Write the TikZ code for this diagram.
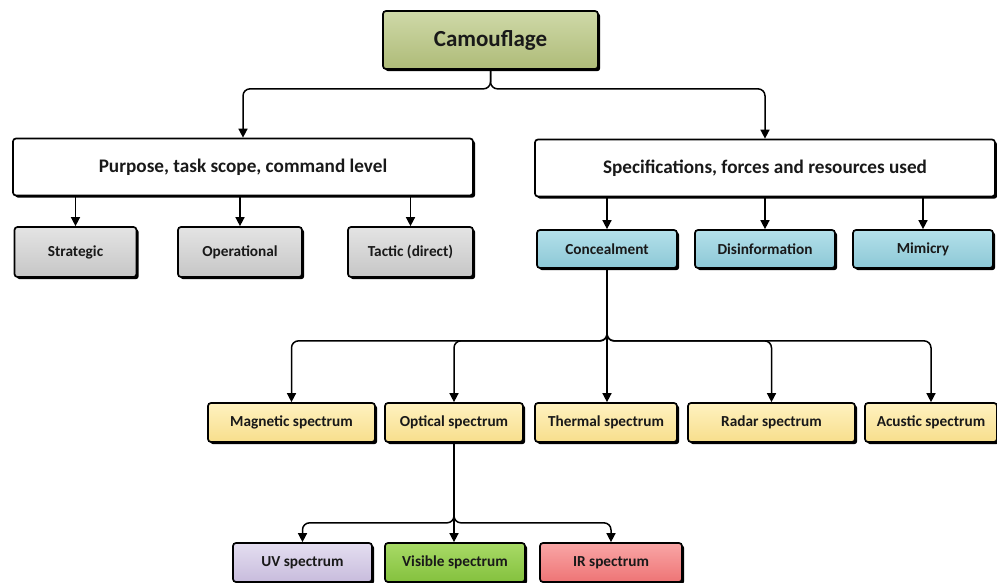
\documentclass[tikz,border=0pt]{standalone}
\usepackage{fontspec}
\setmainfont{Carlito}
\usepackage{xcolor}
\usepackage{tikz}
\usetikzlibrary{arrows.meta}
\usetikzlibrary{shadows}

\definecolor{camotop}{HTML}{CFD9A8}
\definecolor{camobot}{HTML}{AEBB78}
\definecolor{graytop}{HTML}{E4E4E4}
\definecolor{graybot}{HTML}{C6C6C6}
\definecolor{bluetop}{HTML}{B4E0EA}
\definecolor{bluebot}{HTML}{8CC8D6}
\definecolor{yeltop}{HTML}{FFF2C0}
\definecolor{yelbot}{HTML}{F7DE8C}
\definecolor{uvtop}{HTML}{E4DEF0}
\definecolor{uvbot}{HTML}{C8BCDD}
\definecolor{vistop}{HTML}{A8DA66}
\definecolor{visbot}{HTML}{84C13E}
\definecolor{irtop}{HTML}{F9A6A6}
\definecolor{irbot}{HTML}{EE7475}

\begin{document}
\begin{tikzpicture}[x=1pt,y=-1pt]
	\useasboundingbox (0,0) rectangle (997,583);
	\tikzstyle{box}=[draw=black,line width=1.7pt,rounded corners=3pt,inner sep=0pt,text=black!90,drop shadow={shadow xshift=2.2pt,shadow yshift=-2.2pt,fill=black,opacity=1}]
	\tikzstyle{topbox}=[box,minimum width=215pt,minimum height=58pt,top color=camotop,bottom color=camobot,font=\bfseries\fontsize{23}{27}\selectfont]
	\tikzstyle{bigbox}=[box,minimum width=460pt,minimum height=57pt,fill=white,font=\bfseries\fontsize{19.2}{22}\selectfont]
	\tikzstyle{leaf}=[box,minimum height=39pt,font=\bfseries\fontsize{15.3}{18}\selectfont]
	\tikzstyle{link}=[line width=1.5pt,rounded corners=7pt,-{Triangle[length=9pt,width=9pt]}]
	% top and second level
	\node[topbox] (camo) at (490.5,40) {Camouflage};
	\node[bigbox] (purpose) at (243,167) {Purpose, task scope, command level};
	\node[bigbox] (spec) at (765,168) {Specifications, forces and resources used};
	% command levels
	\node[leaf,minimum width=122pt,minimum height=50pt,top color=graytop,bottom color=graybot] (strat) at (75.5,252) {Strategic};
	\node[leaf,minimum width=124pt,minimum height=50pt,top color=graytop,bottom color=graybot] (oper) at (240,252) {Operational};
	\node[leaf,minimum width=125pt,minimum height=50pt,top color=graytop,bottom color=graybot] (tactic) at (410.5,252) {Tactic (direct)};
	% means
	\node[leaf,minimum width=140pt,minimum height=38pt,top color=bluetop,bottom color=bluebot] (conceal) at (607,249) {Concealment};
	\node[leaf,minimum width=140pt,minimum height=38pt,top color=bluetop,bottom color=bluebot] (disinf) at (765,249) {Disinformation};
	\node[leaf,minimum width=140pt,minimum height=38pt,top color=bluetop,bottom color=bluebot] (mimic) at (923,249) {Mimicry};
	% spectra
	\node[leaf,minimum width=167pt,top color=yeltop,bottom color=yelbot] (magnetic) at (291.5,422.5) {Magnetic spectrum};
	\node[leaf,minimum width=138pt,top color=yeltop,bottom color=yelbot] (optical) at (454,422.5) {Optical spectrum};
	\node[leaf,minimum width=142pt,top color=yeltop,bottom color=yelbot] (thermal) at (606,422.5) {Thermal spectrum};
	\node[leaf,minimum width=167pt,top color=yeltop,bottom color=yelbot] (radar) at (771.5,422.5) {Radar spectrum};
	\node[leaf,minimum width=132pt,top color=yeltop,bottom color=yelbot] (acustic) at (931,422.5) {Acustic spectrum};
	% optical bands
	\node[leaf,minimum width=139pt,top color=uvtop,bottom color=uvbot] (uv) at (302.5,562.5) {UV spectrum};
	\node[leaf,minimum width=140pt,top color=vistop,bottom color=visbot] (visible) at (455,562.5) {Visible spectrum};
	\node[leaf,minimum width=142pt,top color=irtop,bottom color=irbot] (ir) at (611,562.5) {IR spectrum};
	% connectors
	\draw[link] (camo.south) -- ++(0,19) -| (purpose.north);
	\draw[link] (camo.south) -- ++(0,19) -| (spec.north);
	\draw[link] (strat.north |- purpose.south) -- (strat.north);
	\draw[link] (oper.north |- purpose.south) -- (oper.north);
	\draw[link] (tactic.north |- purpose.south) -- (tactic.north);
	\draw[link] (conceal.north |- spec.south) -- (conceal.north);
	\draw[link] (disinf.north |- spec.south) -- (disinf.north);
	\draw[link] (mimic.north |- spec.south) -- (mimic.north);
	\draw[link] (conceal.south) -- ++(0,72) -| (magnetic.north);
	\draw[link] (conceal.south) -- ++(0,72) -| (optical.north);
	\draw[link] (conceal.south) -- (conceal.south |- thermal.north);
	\draw[link] (conceal.south) -- ++(0,72) -| (radar.north);
	\draw[link] (conceal.south) -- ++(0,72) -| (acustic.north);
	\draw[link] (optical.south) -- ++(0,80) -| (uv.north);
	\draw[link] (optical.south) -- (optical.south |- visible.north);
	\draw[link] (optical.south) -- ++(0,80) -| (ir.north);
\end{tikzpicture}
\end{document}
